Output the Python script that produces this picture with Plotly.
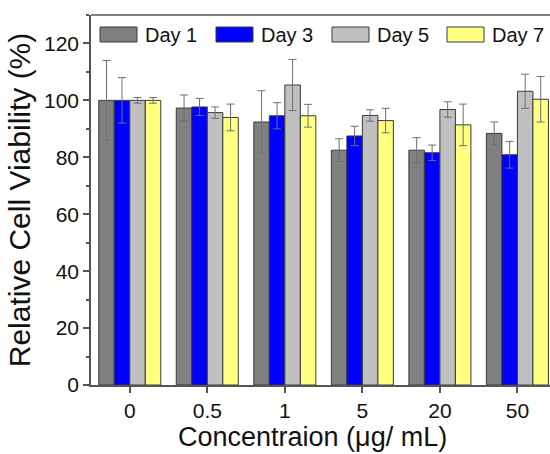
import plotly.graph_objects as go

categories = ["0", "0.5", "1", "5", "20", "50"]
series_names = ["Day 1", "Day 3", "Day 5", "Day 7"]
day1 = [100.0, 97.3, 92.4, 82.5, 82.5, 88.4]
day3 = [100.0, 97.7, 94.6, 87.5, 81.6, 80.9]
day5 = [100.0, 95.7, 105.4, 94.7, 96.8, 103.2]
day7 = [100.0, 94.0, 94.6, 92.9, 91.4, 100.4]
day1_err = [14.0, 4.6, 11.0, 4.0, 4.4, 4.0]
day3_err = [8.0, 3.0, 4.6, 3.4, 2.7, 4.7]
day5_err = [1.0, 2.0, 9.0, 2.0, 2.7, 6.0]
day7_err = [1.0, 4.7, 4.0, 4.3, 7.3, 8.0]
y_ticks = [0, 20, 40, 60, 80, 100, 120]

colors = ["#808080", "#0000ff", "#c0c0c0", "#ffff80"]
values = [day1, day3, day5, day7]
errors = [day1_err, day3_err, day5_err, day7_err]

FONT = "Liberation Sans, Arial, sans-serif"

fig = go.Figure()
for name, vals, errs, col in zip(series_names, values, errors, colors):
    fig.add_trace(go.Bar(
        x=categories, y=vals, name=name,
        marker=dict(color=col, line=dict(color="#3a3a3a", width=1)),
        error_y=dict(type="data", array=errs, visible=True,
                     color="#6e6e6e", thickness=1, width=4),
        showlegend=False,
    ))

# manual legend (wide swatches like the original)
legend_x0 = [100, 216, 332, 447]
shapes = []
annotations = []
W, H = 550, 454
for name, col, x0 in zip(series_names, colors, legend_x0):
    shapes.append(dict(type="rect", xref="paper", yref="paper",
                       x0=(x0 - 91) / 459, x1=(x0 + 37 - 91) / 459,
                       y0=(385 - 42) / 370, y1=(385 - 27) / 370,
                       fillcolor=col, line=dict(color="#3a3a3a", width=1)))
    annotations.append(dict(xref="paper", yref="paper",
                            x=(x0 + 43 - 91) / 459, y=(385 - 35) / 370,
                            text=name, showarrow=False, xanchor="left",
                            yanchor="middle",
                            font=dict(family=FONT, size=20, color="#111")))
# x-axis title placed like the original (slightly left of plot centre)
annotations.append(dict(xref="paper", yref="paper",
                        x=(312 - 91) / 459, y=(385 - 437) / 370,
                        text="Concentraion (μg/ mL)", showarrow=False,
                        xanchor="center", yanchor="middle",
                        font=dict(family=FONT, size=27, color="#111")))
# top frame line
shapes.append(dict(type="line", xref="paper", yref="paper", x0=0, x1=1,
                   y0=1, y1=1, line=dict(color="#555", width=1.5)))

fig.update_layout(
    width=W, height=H,
    margin=dict(l=91, r=0, t=15, b=69, autoexpand=False),
    paper_bgcolor="white", plot_bgcolor="white",
    barmode="group", bargap=0.2, bargroupgap=0,
    font=dict(family=FONT, size=21, color="#111"),
    shapes=shapes, annotations=annotations,
    xaxis=dict(
        range=[-0.5, 5.42], type="category", automargin=False,
        showline=True, linecolor="#555", linewidth=1.5,
        ticks="outside", ticklen=6, tickcolor="#555", tickwidth=1.5,
        tickfont=dict(size=21),
        showgrid=False, zeroline=False,
    ),
    yaxis=dict(
        range=[0, 130], tickvals=y_ticks, automargin=False,
        showline=True, linecolor="#555", linewidth=1.5,
        ticks="outside", ticklen=6, tickcolor="#555", tickwidth=1.5,
        minor=dict(dtick=10, ticks="outside", ticklen=3, tickcolor="#555", tickwidth=1.5),
        tickfont=dict(size=21),
        title=dict(text="Relative Cell Viability (%)", font=dict(size=30), standoff=5),
        showgrid=False, zeroline=False,
    ),
)

fig.write_html("out.html", config={"displayModeBar": False},
               post_script="document.body.style.margin='0';document.body.style.overflow='hidden';")
